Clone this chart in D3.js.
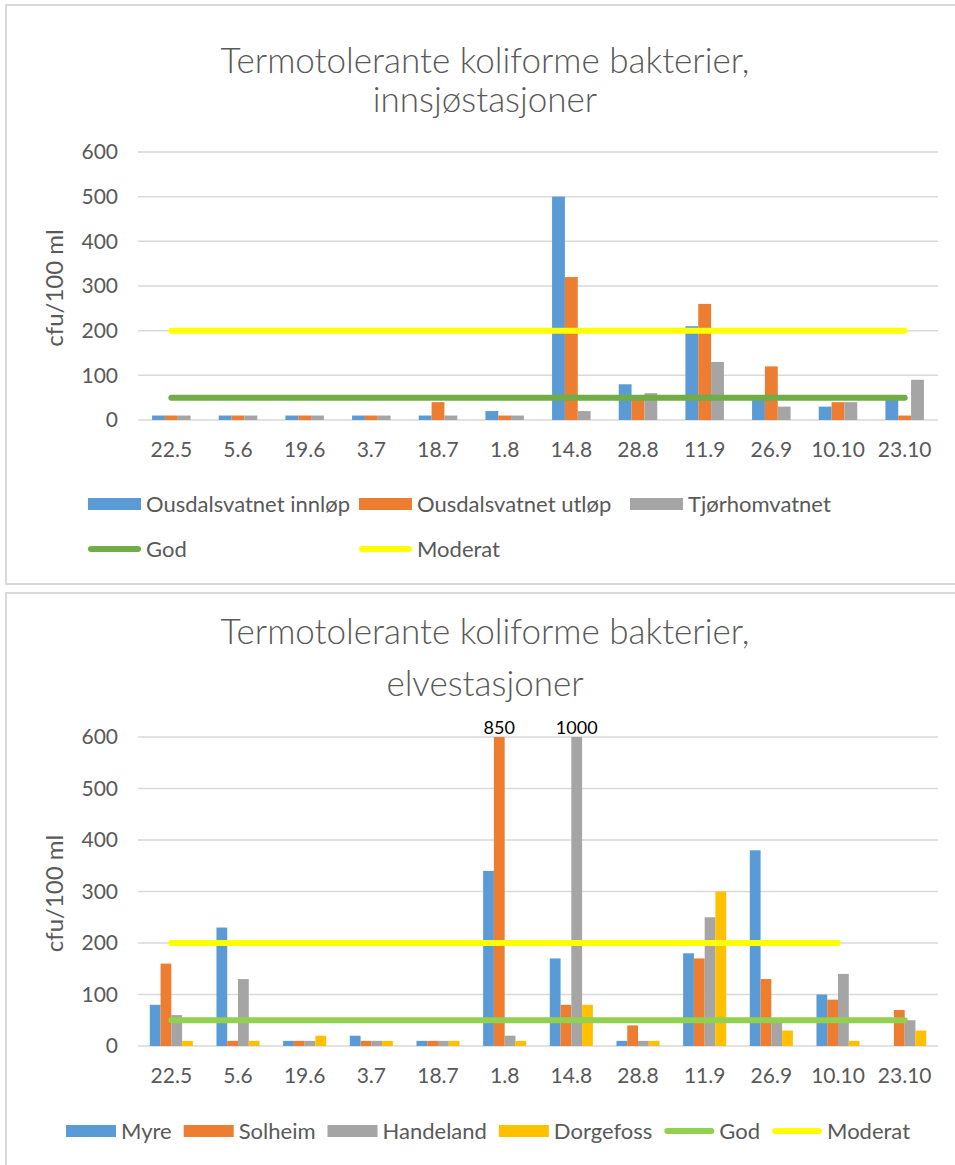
<!doctype html>
<html>
  <head>
    <style>
      body { margin: 0; background: #fff; }
      text { font-family: Lato, "Open Sans", sans-serif; }
    </style>
  </head>
  <body>
    <svg width="955" height="1165" id="content"></svg>

    <script src="https://cdnjs.cloudflare.com/ajax/libs/d3/7.8.5/d3.min.js"></script>
    <script>
      // categories (sampling dates)
      const dates = ['22.5', '5.6', '19.6', '3.7', '18.7', '1.8', '14.8', '28.8', '11.9', '26.9', '10.10', '23.10']
      const yTicks = [0, 100, 200, 300, 400, 500, 600]

      // lake stations
      const ousdalInnlop = [10, 10, 10, 10, 10, 20, 500, 80, 210, 50, 30, 50]
      const ousdalUtlop = [10, 10, 10, 10, 40, 10, 320, 50, 260, 120, 40, 10]
      const tjorhom = [10, 10, 10, 10, 10, 10, 20, 60, 130, 30, 40, 90]
      const godLake = [50, 50, 50, 50, 50, 50, 50, 50, 50, 50, 50, 50]
      const moderatLake = [200, 200, 200, 200, 200, 200, 200, 200, 200, 200, 200, 200]

      // river stations
      const myre = [80, 230, 10, 20, 10, 340, 170, 10, 180, 380, 100, null]
      const solheim = [160, 10, 10, 10, 10, 850, 80, 40, 170, 130, 90, 70]
      const handeland = [60, 130, 10, 10, 10, 20, 1000, 10, 250, 50, 140, 50]
      const dorgefoss = [10, 10, 20, 10, 10, 10, 80, 10, 300, 30, 10, 30]
      const godRiver = [50, 50, 50, 50, 50, 50, 50, 50, 50, 50, 50, 50]
      const moderatRiver = [200, 200, 200, 200, 200, 200, 200, 200, 200, 200, 200, null]

      const svg = d3.select('#content')
      const txt = '#595959'

      // panel frames
      svg.append('rect').attr('x', 6).attr('y', 5).attr('width', 960).attr('height', 579)
        .style('fill', 'none').style('stroke', '#d9d9d9').style('stroke-width', 2)
      svg.append('rect').attr('x', 6).attr('y', 593).attr('width', 960).attr('height', 580)
        .style('fill', 'none').style('stroke', '#d9d9d9').style('stroke-width', 2)

      drawChart({
        titles: ['Termotolerante koliforme bakterier,', 'innsjøstasjoner'],
        titleY: [73, 112],
        top: 152, bottom: 420,
        bars: [
          {name: 'Ousdalsvatnet innløp', values: ousdalInnlop, color: '#5B9BD5'},
          {name: 'Ousdalsvatnet utløp', values: ousdalUtlop, color: '#ED7D31'},
          {name: 'Tjørhomvatnet', values: tjorhom, color: '#A5A5A5'}
        ],
        lines: [
          {name: 'God', values: godLake, color: '#70AD47'},
          {name: 'Moderat', values: moderatLake, color: '#FFFF00'}
        ],
        legend: 'grid',
        legendY: [504, 549]
      })

      drawChart({
        titles: ['Termotolerante koliforme bakterier,', 'elvestasjoner'],
        titleY: [644, 696],
        top: 737, bottom: 1046,
        bars: [
          {name: 'Myre', values: myre, color: '#5B9BD5'},
          {name: 'Solheim', values: solheim, color: '#ED7D31'},
          {name: 'Handeland', values: handeland, color: '#A5A5A5'},
          {name: 'Dorgefoss', values: dorgefoss, color: '#FFC000'}
        ],
        lines: [
          {name: 'God', values: godRiver, color: '#92D050'},
          {name: 'Moderat', values: moderatRiver, color: '#FFFF00'}
        ],
        legend: 'row',
        legendY: [1131]
      })

      function drawChart (cfg) {
        const g = svg.append('g')
        const left = 138, right = 938

        cfg.titles.forEach((t, i) => {
          g.append('text')
            .attr('x', 485).attr('y', cfg.titleY[i])
            .attr('text-anchor', 'middle')
            .style('font-size', '35px').style('font-weight', 300)
            .style('fill', txt)
            .text(t)
        })

        const x = d3.scaleBand().domain(dates).range([left, right])
        const y = d3.scaleLinear().domain([0, 600]).range([cfg.bottom, cfg.top]).clamp(true)

        // gridlines
        g.append('g').selectAll('line').data(yTicks).join('line')
          .attr('x1', left).attr('x2', right)
          .attr('y1', d => y(d)).attr('y2', d => y(d))
          .style('stroke', '#d9d9d9').style('stroke-width', 1.5)

        const yAxis = g.append('g').attr('transform', `translate(${left - 20},0)`)
          .call(d3.axisLeft(y).tickValues(yTicks).tickSize(0).tickPadding(0))
        yAxis.select('.domain').remove()
        yAxis.selectAll('text').style('font-size', '21px').style('fill', txt).style('font-family', 'Lato')

        const xAxis = g.append('g').attr('transform', `translate(0,${cfg.bottom + 22})`)
          .call(d3.axisBottom(x).tickSize(0).tickPadding(0))
        xAxis.select('.domain').remove()
        xAxis.selectAll('text').style('font-size', '21px').style('fill', txt).style('font-family', 'Lato')
          .attr('dy', '0.71em')

        g.append('text')
          .attr('transform', `translate(63,${(cfg.top + cfg.bottom) / 2 + 2}) rotate(-90)`)
          .attr('text-anchor', 'middle')
          .style('font-size', '24px').style('fill', txt)
          .text('cfu/100 ml')

        // grouped bars, Excel gap width 219%
        const n = cfg.bars.length
        const groupW = x.bandwidth() * n / (n + 2.19)
        const xs = d3.scaleBand().domain(cfg.bars.map(b => b.name))
          .range([(x.bandwidth() - groupW) / 2, (x.bandwidth() + groupW) / 2])

        cfg.bars.forEach(s => {
          const pts = s.values.map((v, i) => ({date: dates[i], v})).filter(d => d.v != null)
          g.append('g').selectAll('rect').data(pts).join('rect')
            .attr('x', d => x(d.date) + xs(s.name))
            .attr('width', xs.bandwidth())
            .attr('y', d => y(d.v))
            .attr('height', d => y(0) - y(d.v))
            .style('fill', s.color)
          // values beyond the axis get a label
          g.append('g').selectAll('text').data(pts.filter(d => d.v > 600)).join('text')
            .attr('x', d => x(d.date) + xs(s.name) + xs.bandwidth() / 2)
            .attr('y', y(600) - 3)
            .attr('text-anchor', 'middle')
            .style('font-size', '18px').style('fill', '#000')
            .text(d => d.v)
        })

        const line = d3.line()
          .defined(d => d != null)
          .x((d, i) => x(dates[i]) + x.bandwidth() / 2)
          .y(d => y(d))
        cfg.lines.forEach(l => {
          g.append('path').datum(l.values)
            .attr('d', line)
            .style('fill', 'none').style('stroke', l.color)
            .style('stroke-width', 6).style('stroke-linecap', 'round')
        })

        // legend
        const items = cfg.bars.map(b => ({...b, type: 'bar'}))
          .concat(cfg.lines.map(l => ({...l, type: 'line'})))
        const lg = g.append('g')
        function addItem (it, x0, yc, sw) {
          if (it.type === 'bar') {
            lg.append('rect').attr('x', x0).attr('y', yc - 6).attr('width', sw).attr('height', 12)
              .style('fill', it.color)
          } else {
            lg.append('line').attr('x1', x0 + 3).attr('x2', x0 + sw - 3).attr('y1', yc).attr('y2', yc)
              .style('stroke', it.color).style('stroke-width', 6).style('stroke-linecap', 'round')
          }
          return lg.append('text').attr('x', x0 + sw + 5).attr('y', yc).attr('dy', '0.35em')
            .style('font-size', '22px').style('fill', txt).text(it.name)
        }
        if (cfg.legend === 'grid') {
          items.forEach((it, i) => {
            const col = i % 3, row = Math.floor(i / 3)
            addItem(it, 88 + col * 271, cfg.legendY[row], 53)
          })
        } else {
          let x0 = 66
          items.forEach(it => {
            const t = addItem(it, x0, cfg.legendY[0], 50)
            x0 += 50 + 5 + t.node().getComputedTextLength() + 12
          })
        }
      }
    </script>
  </body>
</html>
